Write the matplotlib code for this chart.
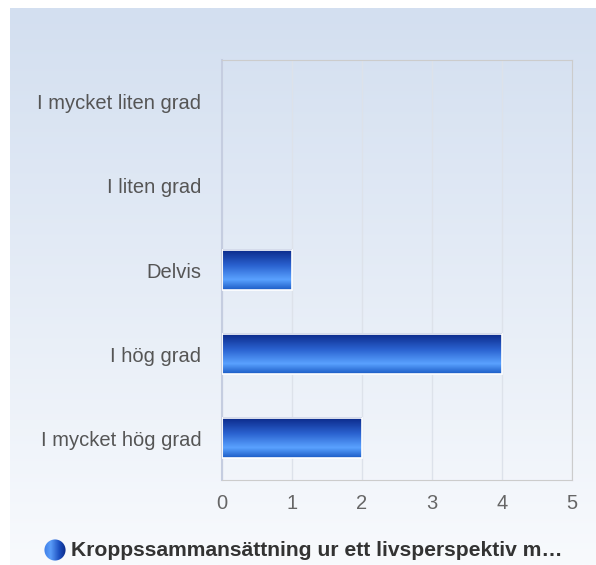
import numpy as np
import matplotlib.pyplot as plt
from matplotlib.colors import LinearSegmentedColormap
from matplotlib.patches import Circle

plt.rcParams['font.family'] = ['Liberation Sans', 'DejaVu Sans']

# data
categories = ['I mycket liten grad', 'I liten grad', 'Delvis', 'I hög grad', 'I mycket hög grad']
values = [0, 0, 1, 4, 2]
xticks = [0, 1, 2, 3, 4, 5]
series_name = 'Kroppssammansättning ur ett livsperspektiv m…'

W, H = 596, 565
fig = plt.figure(figsize=(W / 100, H / 100), dpi=100)

# background panel with vertical gradient
bg = fig.add_axes([10 / W, 0, 1 - 10 / W, (H - 8) / H], zorder=-1)
bg_cmap = LinearSegmentedColormap.from_list('bg', ['#f8fafd', '#d3dff0'])
bg.imshow(np.linspace(0, 1, 256).reshape(-1, 1), cmap=bg_cmap, aspect='auto',
          origin='lower', extent=[0, 1, 0, 1])
bg.axis('off')

# main plot area
ax = fig.add_axes([222 / W, (H - 480) / H, (572 - 222) / W, (480 - 60) / H])
ax.patch.set_alpha(0)

y = np.arange(len(categories))[::-1]
bars = ax.barh(y, values, height=0.48, color='none', edgecolor='white', linewidth=1.2, zorder=3)

bar_cmap = LinearSegmentedColormap.from_list(
    'bar', [(0, '#1c5cc6'), (0.25, '#5aa2ff'), (0.6, '#2a62d0'), (1, '#0a2888')])
grad = np.linspace(0, 1, 64).reshape(-1, 1)
for b in bars:
    if b.get_width() <= 0:
        b.set_visible(False)
        continue
    x0, y0 = b.get_x(), b.get_y()
    ax.imshow(grad, cmap=bar_cmap, aspect='auto', origin='lower',
              extent=[x0, x0 + b.get_width(), y0, y0 + b.get_height()], zorder=2)

ax.set_xlim(0, 5)
ax.set_ylim(-0.5, len(categories) - 0.5)
ax.set_xticks(xticks)
ax.set_yticks(y)
ax.set_yticklabels(categories)
ax.grid(axis='x', color='#dde2ea', linewidth=1, zorder=0)
ax.tick_params(length=0)
ax.tick_params(axis='y', labelsize=14.5, labelcolor='#555555', pad=15)
ax.tick_params(axis='x', labelsize=14.5, labelcolor='#666666', pad=10)
for s in ['top', 'right', 'bottom']:
    ax.spines[s].set_color('#cccccc')
ax.spines['left'].set_color('#c5cde0')
ax.spines['left'].set_linewidth(1.5)

# legend: gradient sphere + bold label
lg = fig.add_axes([44 / W, (H - 561) / H, 22 / W, 22 / H])
lg_cmap = LinearSegmentedColormap.from_list(
    'leg', [(0, '#3f7fe8'), (0.3, '#5a9cf8'), (0.7, '#1c4fc0'), (1, '#0a2a88')])
img = lg.imshow(np.linspace(0, 1, 64).reshape(1, -1), cmap=lg_cmap, aspect='auto',
                extent=[0, 1, 0, 1])
img.set_clip_path(Circle((0.5, 0.5), 0.48, transform=lg.transData))
lg.set_xlim(0, 1)
lg.set_ylim(0, 1)
lg.axis('off')
fig.text(71 / W, (H - 550) / H, series_name, ha='left', va='center',
         fontsize=15.2, fontweight='bold', color='#333333')

fig.savefig('out.png', dpi=100)
